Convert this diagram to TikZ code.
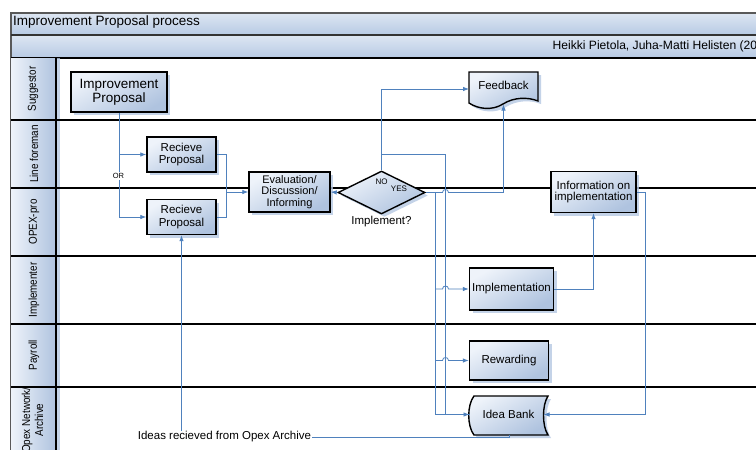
\documentclass[tikz,border=0pt]{standalone}
\usepackage{fontspec}
\setmainfont{Liberation Sans}
\usetikzlibrary{shapes.geometric,shadows,arrows.meta,calc}
\definecolor{lineblue}{HTML}{4F81BD}
\definecolor{nlight}{HTML}{EEF3FA}
\definecolor{ndark}{HTML}{AFC3DF}
\definecolor{shadowc}{HTML}{B6C8E3}
\definecolor{barlight}{HTML}{DDE6F2}
\definecolor{bardark}{HTML}{B7CAE4}
\begin{document}
\begin{tikzpicture}[x=1pt,y=-1pt,
  box/.style={draw=black, line width=1.4pt, top color=nlight, bottom color=ndark, shading angle=30,
    align=center, inner sep=0pt, font={\fontsize{11.5}{12.5}\selectfont},
    drop shadow={shadow xshift=3pt, shadow yshift=-3pt, fill=shadowc, opacity=0.8}},
  conn/.style={draw=lineblue, line width=0.8pt},
  arr/.style={conn, -{Latex[length=6pt,width=4.5pt]}},
  lanelab/.style={rotate=90, font={\fontsize{11.5}{13}\selectfont}, align=center, inner sep=0pt},
  divider/.style={line width=2pt, black},
  txt/.style={inner sep=0pt, font={\fontsize{11.5}{12.5}\selectfont}},
  shapeline/.style={draw=black, line width=1.4pt},
]
\useasboundingbox (0,0) rectangle (756,450);
\begin{scope}
\clip (0,0) rectangle (756,450);
\fill[white] (0,0) rectangle (756,450);
% title and author bars
\shade[top color=barlight, bottom color=bardark] (11,13) rectangle (770,35);
\shade[top color=barlight, bottom color=bardark] (11,35) rectangle (770,58);
\draw[line width=1.5pt, black!65] (770,13) -- (11,13) -- (11,470);
\draw[line width=1.5pt, black!80] (11,35) -- (770,35);
\draw[divider] (11,58) -- (770,58);
\node[anchor=west, inner sep=0pt, font={\fontsize{13.5}{15}\selectfont}] (title) at (13,22.5) {Improvement Proposal process};
\node[anchor=west, inner sep=0pt, font={\fontsize{12.1}{14}\selectfont}] (author) at (552.5,46) {Heikki Pietola, Juha-Matti Helisten (2010)};
% lane headers
\foreach \ya/\yb in {58/120,120/188,188/256,256/324,324/387,387/470}{
  \shade[left color=nlight, right color=ndark] (11,\ya) rectangle (56,\yb);
}
\fill[shadowc, opacity=0.8] (57,58) rectangle (60,470);
\foreach \yy in {120,188,256,324,387}{
  \draw[divider] (11,\yy) -- (770,\yy);
}
\draw[divider] (56,58) -- (56,470);
\node[lanelab] (l1) at (33,89) {\scalebox{0.86}[1]{Suggestor}};
\node[lanelab] (l2) at (34,154) {\scalebox{0.86}[1]{Line foreman}};
\node[lanelab] (l3) at (34,222) {\scalebox{0.86}[1]{OPEX-pro}};
\node[lanelab] (l4) at (34,290) {\scalebox{0.86}[1]{Implementer}};
\node[lanelab] (l5) at (34,355) {\scalebox{0.86}[1]{Payroll}};
\node[lanelab] (l6) at (34,420) {\scalebox{0.86}[1]{\begin{tabular}{@{}c@{}}Opex Network/\\Archive\end{tabular}}};
% nodes
\node[box, minimum width=96pt, minimum height=40pt, font={\fontsize{13.5}{14}\selectfont}] (ip) at (119,92) {Improvement\\Proposal};
\node[box, minimum width=69pt, minimum height=35pt] (rp1) at (181.5,154.5) {Recieve\\Proposal};
\node[box, minimum width=69pt, minimum height=35pt] (rp2) at (181.5,217) {Recieve\\Proposal};
\node[box, minimum width=81pt, minimum height=40pt, font={\fontsize{11}{11.3}\selectfont}] (ev) at (289.5,192) {Evaluation/\\Discussion/\\Informing};
\node[box, diamond, minimum width=87pt, minimum height=43pt] (dec) at (381.5,192.5) {};
\node[inner sep=0pt, font={\fontsize{8}{9}\selectfont}] (no) at (381.5,181.5) {NO};
\node[inner sep=0pt, font={\fontsize{8}{9}\selectfont}] (yes) at (399,189) {YES};
\node[txt] (implq) at (381.5,221.5) {Implement?};
\node[box, minimum width=85pt, minimum height=41pt, font={\fontsize{11.5}{11}\selectfont}] (info) at (593.5,192) {Information on\\implementation};
\node[box, minimum width=84pt, minimum height=42pt] (impl) at (511.5,289) {Implementation};
\node[box, minimum width=79pt, minimum height=39pt] (rew) at (509,360.5) {Rewarding};
% Feedback document shape
\fill[shadowc, opacity=0.8, shift={(3,3)}] (469,72) -- (538,72) -- (538,101) .. controls (528,97) and (514,97) .. (503,104) .. controls (492,111) and (478,109) .. (469,103) -- cycle;
\shade[top color=nlight, bottom color=ndark, shading angle=30] (469,72) -- (538,72) -- (538,101) .. controls (528,97) and (514,97) .. (503,104) .. controls (492,111) and (478,109) .. (469,103) -- cycle;
\draw[shapeline] (469,72) -- (538,72) -- (538,101) .. controls (528,97) and (514,97) .. (503,104) .. controls (492,111) and (478,109) .. (469,103) -- cycle;
\node[txt] (fb) at (503.5,85) {Feedback};
% Idea Bank stored-data shape
\fill[shadowc, opacity=0.8, shift={(3,3)}] (474,396) -- (548,396) .. controls (542,405) and (542,426) .. (548,435) -- (474,435) .. controls (467,426) and (467,405) .. (474,396) -- cycle;
\shade[top color=nlight, bottom color=ndark, shading angle=30] (474,396) -- (548,396) .. controls (542,405) and (542,426) .. (548,435) -- (474,435) .. controls (467,426) and (467,405) .. (474,396) -- cycle;
\draw[shapeline] (474,396) -- (548,396) .. controls (542,405) and (542,426) .. (548,435) -- (474,435) .. controls (467,426) and (467,405) .. (474,396) -- cycle;
\node[txt] (ib) at (508.5,414.5) {Idea Bank};
% connector coordinates
\coordinate (fbw) at (469,89);
\coordinate (fbbot) at (503.5,104.5);
\coordinate (ibw) at (469.5,414.5);
\coordinate (ibe) at (543.5,414.5);
\coordinate (ibs) at (509,435);
\coordinate (m) at (226,192);
\coordinate (nb) at (445.5,154.5);
\coordinate (yb) at (435.5,192.5);
\coordinate (ir) at (645,192);
% connectors
\draw[arr] (ip.south) |- (rp2.west);
\draw[arr] (ip.south |- rp1.west) -- (rp1.west);
\node[fill=white, inner sep=1pt, font={\fontsize{7.5}{8}\selectfont}] (or) at (118.5,176) {OR};
\draw[conn] (rp1.east) -| (m);
\draw[conn] (rp2.east) -| (m);
\draw[arr] (m) -- (ev.west);
\draw[arr] (dec.west) -- (ev.east);
\draw[arr] (dec.north) |- (fbw);
\draw[arr] (dec.north |- nb) -- (nb) -- (nb |- ibw) -- (ibw);
\draw[conn] (dec.east) -- (yb) -- (yb |- ibw) -- (ibw);
\draw[arr] (yb) -- (442.5,192.5) .. controls (442.5,188.5) and (448.5,188.5) .. (448.5,192.5) -| (fbbot);
\draw[arr] (yb |- impl.west) -- (442.5,289) .. controls (442.5,285) and (448.5,285) .. (448.5,289) -- (impl.west);
\draw[arr] (yb |- rew.west) -- (442.5,360.5) .. controls (442.5,356.5) and (448.5,356.5) .. (448.5,360.5) -- (rew.west);
\draw[arr] (impl.east) -| (info.south);
\draw[arr] (info.east) -- (ir) |- (ibe);
\draw[arr] (ibs) -- ++(0,2.5) -| (rp2.south);
\node[fill=white, inner sep=1pt, font={\fontsize{11.5}{12.5}\selectfont}] (lab) at (224.5,437) {Ideas recieved from Opex Archive};
\end{scope}
\end{tikzpicture}
\end{document}
